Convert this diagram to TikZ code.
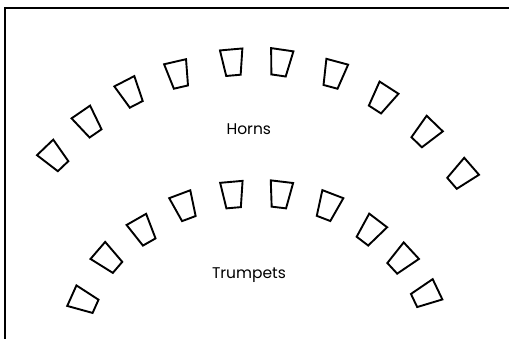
\documentclass[tikz,border=0pt]{standalone}
\usepackage{fontspec}
\setmainfont{Poppins}

\tikzset{
	seat/.pic={\draw[line width=1.9pt, line join=miter] (-11.25,-13) -- (11.25,-13) -- (7.25,13) -- (-7.25,13) -- cycle;},
	section/.style={font=\fontsize{15.5}{18}\selectfont, anchor=base}
}

\begin{document}
\begin{tikzpicture}[x=1pt, y=-1pt]
		\useasboundingbox (0,0) rectangle (509,339);

		% frame
		\draw[line width=2pt] (5,339) -- (5,8) -- (509,8);

		% horns
		\pic[rotate=43.7] at (54.1,156.8) {seat};
		\pic[rotate=34.5] at (88.2,122.7) {seat};
		\pic[rotate=27.3] at (130.3,92.8) {seat};
		\pic[rotate=13] at (178,74.4) {seat};
		\pic[rotate=5] at (232.3,62.4) {seat};
		\pic[rotate=-8.3] at (280.4,62.6) {seat};
		\pic[rotate=-15] at (333.9,74.3) {seat};
		\pic[rotate=-32.8] at (382,98.6) {seat};
		\pic[rotate=-44] at (425.7,132.9) {seat};
		\pic[rotate=-49] at (461.8,174.8) {seat};
		\node[section] (horns) at (248.8,134.3) {Horns};

		% trumpets
		\pic[rotate=65.8] at (83.7,301) {seat};
		\pic[rotate=49.3] at (107.7,258.9) {seat};
		\pic[rotate=29.7] at (142.8,230.7) {seat};
		\pic[rotate=20.5] at (184.3,206.4) {seat};
		\pic[rotate=5] at (232.5,194.8) {seat};
		\pic[rotate=-6.8] at (280.4,194.6) {seat};
		\pic[rotate=-21] at (328.2,206.3) {seat};
		\pic[rotate=-37.3] at (370.3,230.8) {seat};
		\pic[rotate=-47.2] at (401.8,259.5) {seat};
		\pic[rotate=-64.5] at (425.8,294.9) {seat};
		\node[section] (trumpets) at (249,278.5) {Trumpets};
	\end{tikzpicture}
\end{document}
